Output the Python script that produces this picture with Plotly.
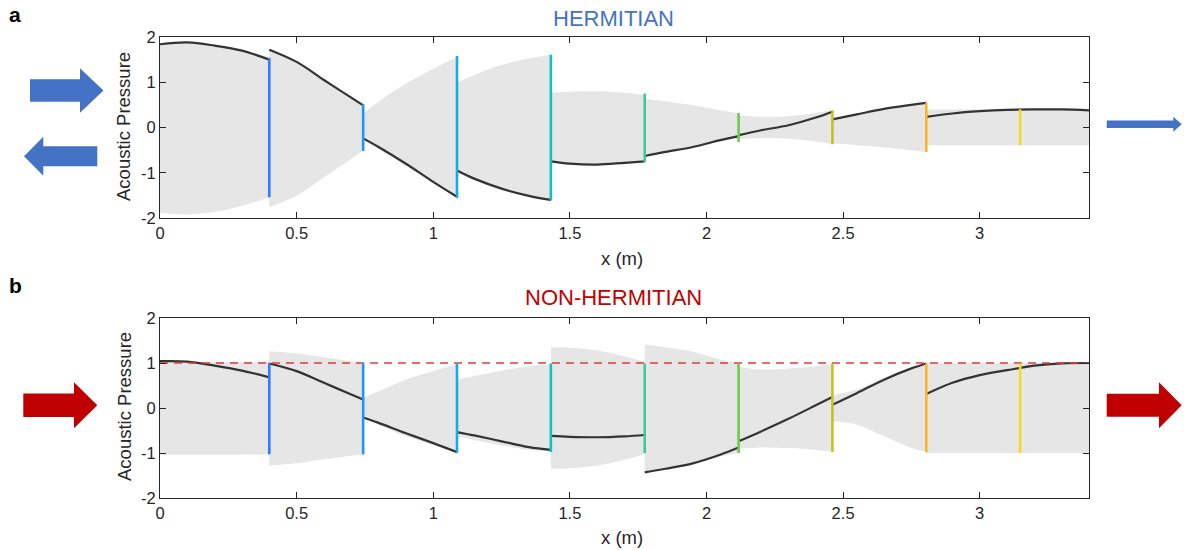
import plotly.graph_objects as go

# ---------------- data ----------------
X_RANGE = [0, 3.4]
Y_RANGE = [-2, 2]
X_TICKS = [0, 0.5, 1, 1.5, 2, 2.5, 3]
X_TICK_LABELS = ["0", "0.5", "1", "1.5", "2", "2.5", "3"]
Y_TICKS = [-2, -1, 0, 1, 2]
Y_TICK_LABELS = ["-2", "-1", "0", "1", "2"]

BOUNDARIES = [0.4, 0.7435, 1.087, 1.4305, 1.774, 2.1175, 2.461, 2.8045, 3.148]
BOUNDARY_COLORS = ["#2a7fff", "#1e98f0", "#12aee0", "#12c0c0", "#3ecc90",
                   "#72c84c", "#c8c020", "#ffb22e", "#f6da22"]

# sample positions along x for each segment
SEG_X = [
    [0, 0.1, 0.2, 0.3, 0.4],
    [0.4, 0.5, 0.6, 0.7, 0.7435],
    [0.7435, 0.8, 0.9, 1.0, 1.087],
    [1.087, 1.15, 1.25, 1.35, 1.4305],
    [1.4305, 1.5, 1.6, 1.7, 1.774],
    [1.774, 1.85, 1.95, 2.05, 2.1175],
    [2.1175, 2.2, 2.3, 2.4, 2.461],
    [2.461, 2.55, 2.65, 2.75, 2.8045],
    [2.8045, 2.9, 3.0, 3.1, 3.2, 3.3, 3.4],
]

# (a) Hermitian
HERM_CURVE = [
    [1.84, 1.88, 1.81, 1.70, 1.50],
    [1.72, 1.45, 1.05, 0.66, 0.49],
    [-0.24, -0.43, -0.80, -1.20, -1.53],
    [-0.95, -1.13, -1.35, -1.51, -1.60],
    [-0.75, -0.80, -0.82, -0.78, -0.75],
    [-0.63, -0.54, -0.43, -0.28, -0.19],
    [-0.17, -0.06, 0.05, 0.22, 0.35],
    [0.18, 0.29, 0.41, 0.50, 0.545],
    [0.235, 0.31, 0.36, 0.39, 0.40, 0.40, 0.38],
]
HERM_UPPER = [
    [1.85, 1.89, 1.82, 1.71, 1.52],
    [1.73, 1.46, 1.06, 0.67, 0.50],
    [0.31, 0.57, 0.97, 1.30, 1.56],
    [0.99, 1.16, 1.38, 1.53, 1.61],
    [0.77, 0.79, 0.80, 0.77, 0.72],
    [0.63, 0.58, 0.49, 0.38, 0.31],
    [0.27, 0.24, 0.25, 0.32, 0.38],
    [0.19, 0.30, 0.42, 0.51, 0.55],
    [0.40, 0.40, 0.40, 0.40, 0.40, 0.40, 0.40],
]
HERM_LOWER = [
    [-1.89, -1.92, -1.87, -1.73, -1.54],
    [-1.76, -1.51, -1.10, -0.69, -0.50],
    [-0.28, -0.48, -0.84, -1.24, -1.55],
    [-0.99, -1.16, -1.38, -1.53, -1.61],
    [-0.77, -0.81, -0.83, -0.79, -0.76],
    [-0.64, -0.56, -0.45, -0.31, -0.24],
    [-0.26, -0.24, -0.25, -0.31, -0.37],
    [-0.35, -0.39, -0.44, -0.50, -0.54],
    [-0.39, -0.39, -0.39, -0.39, -0.39, -0.39, -0.39],
]
HERM_MARK_TOP = [1.54, 0.52, 1.58, 1.61, 0.75, 0.32, 0.38, 0.545, 0.40]
HERM_MARK_BOT = [-1.54, -0.52, -1.56, -1.61, -0.76, -0.32, -0.37, -0.54, -0.39]

# (b) Non-Hermitian
NH_CURVE = [
    [1.04, 1.03, 0.94, 0.83, 0.68],
    [0.99, 0.82, 0.56, 0.30, 0.19],
    [-0.21, -0.33, -0.56, -0.78, -0.98],
    [-0.535, -0.61, -0.74, -0.87, -0.93],
    [-0.62, -0.64, -0.65, -0.63, -0.60],
    [-1.43, -1.35, -1.23, -1.04, -0.88],
    [-0.74, -0.52, -0.24, 0.06, 0.245],
    [0.074, 0.33, 0.63, 0.88, 0.99],
    [0.31, 0.56, 0.73, 0.84, 0.94, 0.99, 1.0],
]
NH_UPPER = [
    [1.02, 1.02, 1.02, 1.02, 1.02],
    [1.26, 1.21, 1.13, 1.04, 1.00],
    [0.22, 0.37, 0.63, 0.82, 0.97],
    [0.63, 0.71, 0.83, 0.93, 0.97],
    [1.35, 1.34, 1.28, 1.15, 1.03],
    [1.41, 1.35, 1.25, 1.08, 1.00],
    [0.91, 0.855, 0.88, 0.93, 0.98],
    [0.28, 0.41, 0.67, 0.89, 0.99],
    [1.0, 1.0, 1.0, 1.0, 1.0, 1.0, 1.0],
]
NH_LOWER = [
    [-1.04, -1.04, -1.04, -1.04, -1.03],
    [-1.28, -1.23, -1.14, -1.06, -1.03],
    [-0.23, -0.37, -0.63, -0.82, -0.99],
    [-0.63, -0.71, -0.83, -0.93, -0.97],
    [-1.35, -1.34, -1.28, -1.15, -1.03],
    [-1.43, -1.36, -1.25, -1.08, -1.00],
    [-0.91, -0.88, -0.89, -0.93, -0.98],
    [-0.30, -0.37, -0.63, -0.89, -0.98],
    [-1.0, -1.0, -1.0, -1.0, -1.0, -1.0, -1.0],
]
NH_MARK_TOP = [1.0, 1.0, 0.99, 0.99, 0.99, 0.99, 0.99, 0.99, 0.99]
NH_MARK_BOT = [-1.03, -1.03, -0.99, -0.98, -1.0, -1.0, -0.98, -0.98, -1.0]
NH_REF_LEVEL = 1.0

# ---------------- style ----------------
W, H = 1184, 550
ML, MR, MT, MB = 160, 95, 37, 52
PW, PH = W - ML - MR, H - MT - MB
FONT = "Liberation Sans, Arial, Helvetica, sans-serif"
AX_COL = "#262626"
FILL_COL = "#e6e6e6"
CURVE_COL = "#333333"
BLUE = "#4472c4"
RED = "#c00000"


def px(x):
    return (x - ML) / PW


def py(y):
    return (H - MB - y) / PH


fig = go.Figure()


def add_panel(xa, ya, curve, upper, lower, mtop, mbot, ref=None):
    for xs, lo, up in zip(SEG_X, lower, upper):
        fig.add_trace(go.Scatter(x=xs, y=lo, mode="lines", line=dict(width=0, shape="spline"),
                                 xaxis=xa, yaxis=ya, showlegend=False, hoverinfo="skip"))
        fig.add_trace(go.Scatter(x=xs, y=up, mode="lines", line=dict(width=0, shape="spline"),
                                 fill="tonexty", fillcolor=FILL_COL,
                                 xaxis=xa, yaxis=ya, showlegend=False, hoverinfo="skip"))
    for xs, cv in zip(SEG_X, curve):
        fig.add_trace(go.Scatter(x=xs, y=cv, mode="lines",
                                 line=dict(color=CURVE_COL, width=2.2, shape="spline"),
                                 xaxis=xa, yaxis=ya, showlegend=False))
    if ref is not None:
        fig.add_trace(go.Scatter(x=X_RANGE, y=[ref, ref], mode="lines",
                                 line=dict(color="#e23a3a", width=1.6, dash="8px,6px"),
                                 xaxis=xa, yaxis=ya, showlegend=False))
    for b, c, t, bt in zip(BOUNDARIES, BOUNDARY_COLORS, mtop, mbot):
        fig.add_trace(go.Scatter(x=[b, b], y=[bt, t], mode="lines",
                                 line=dict(color=c, width=2.6),
                                 xaxis=xa, yaxis=ya, showlegend=False))


add_panel("x", "y", HERM_CURVE, HERM_UPPER, HERM_LOWER, HERM_MARK_TOP, HERM_MARK_BOT)
add_panel("x2", "y2", NH_CURVE, NH_UPPER, NH_LOWER, NH_MARK_TOP, NH_MARK_BOT, ref=NH_REF_LEVEL)

top_dom = [py(218), 1.0]
bot_dom = [0.0, py(318)]

axis_common = dict(showline=True, linecolor=AX_COL, linewidth=1, mirror="allticks",
                   ticks="inside", ticklen=6, tickcolor=AX_COL, showgrid=False,
                   zeroline=False, tickfont=dict(family=FONT, size=16.5, color=AX_COL))

fig.update_layout(
    width=W, height=H, paper_bgcolor="white", plot_bgcolor="white",
    margin=dict(l=ML, r=MR, t=MT, b=MB),
    hovermode=False,
    xaxis=dict(domain=[0, 1], anchor="y", range=X_RANGE, tickvals=X_TICKS,
               ticktext=X_TICK_LABELS, **axis_common),
    yaxis=dict(domain=top_dom, anchor="x", range=Y_RANGE, tickvals=Y_TICKS,
               ticktext=Y_TICK_LABELS, **axis_common),
    xaxis2=dict(domain=[0, 1], anchor="y2", range=X_RANGE, tickvals=X_TICKS,
                ticktext=X_TICK_LABELS, **axis_common),
    yaxis2=dict(domain=bot_dom, anchor="x2", range=Y_RANGE, tickvals=Y_TICKS,
                ticktext=Y_TICK_LABELS, **axis_common),
)


def ann(text, x, y, size, color=AX_COL, bold=False, angle=0):
    fig.add_annotation(text=("<b>%s</b>" % text) if bold else text, x=px(x), y=py(y),
                       xref="paper", yref="paper", showarrow=False, textangle=angle,
                       xanchor="center", yanchor="middle",
                       font=dict(family=FONT, size=size, color=color))


ann("HERMITIAN", 613, 18, 22, BLUE)
ann("NON-HERMITIAN", 613, 298, 22, RED)
ann("a", 15, 15, 21, "#000000", bold=True)
ann("b", 15, 285, 21, "#000000", bold=True)
ann("Acoustic Pressure", 124, 127, 18.5, angle=-90)
ann("Acoustic Pressure", 124, 407, 18.5, angle=-90)
ann("x (m)", 622, 258, 18.5)
ann("x (m)", 622, 537, 18.5)


def arrow(tail, headbase, tip, yc, sh, hh, color):
    pts = [(tail, yc - sh), (headbase, yc - sh), (headbase, yc - hh), (tip, yc),
           (headbase, yc + hh), (headbase, yc + sh), (tail, yc + sh)]
    path = "M " + " L ".join("%.5f,%.5f" % (px(a), py(b)) for a, b in pts) + " Z"
    fig.add_shape(type="path", path=path, xref="paper", yref="paper",
                  fillcolor=color, line=dict(width=0), layer="above")


arrow(30, 80, 103.5, 90.5, 11.3, 22.2, BLUE)
arrow(97.3, 43.3, 24, 156.2, 10, 19.5, BLUE)
arrow(1106.7, 1173.3, 1181.7, 124.2, 3.8, 7.5, BLUE)
arrow(23.3, 74, 97.3, 405.3, 11.7, 23, RED)
arrow(1106.7, 1159, 1181.7, 405.3, 11.5, 23, RED)

fig.write_html("out.html", config={"displayModeBar": False},
               post_script="document.body.style.margin='0';document.body.style.overflow='hidden';")
